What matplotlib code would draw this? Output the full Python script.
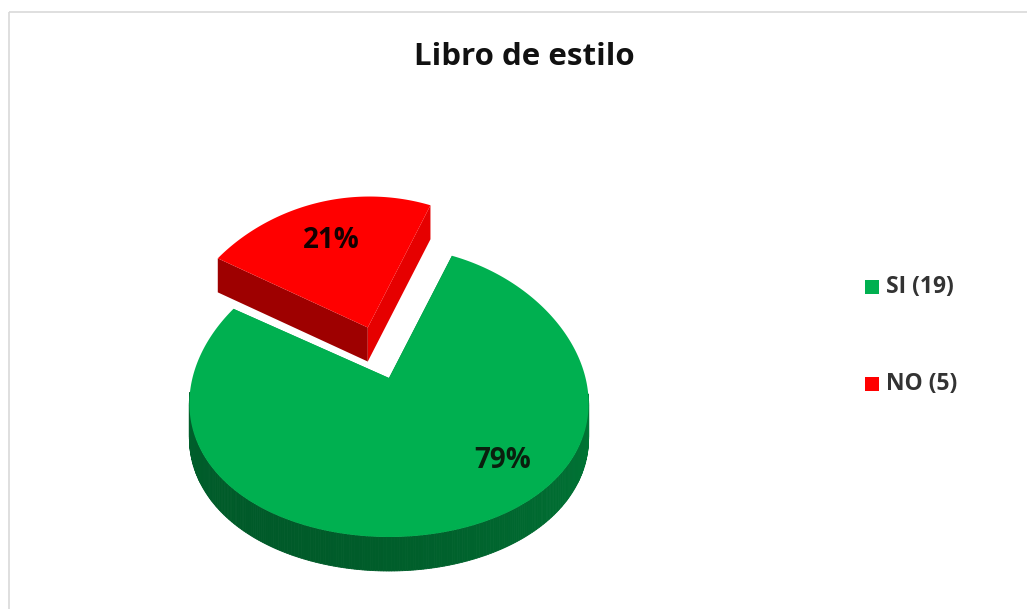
import numpy as np
import matplotlib
matplotlib.use("Agg")
import matplotlib.pyplot as plt
from matplotlib.patches import Polygon, Rectangle
from matplotlib.colors import to_rgb

# Data
categories = ["SI", "NO"]
counts = [19, 5]
legend_labels = ["SI (19)", "NO (5)"]
top_colors = ["#00B050", "#FF0000"]
title = "Libro de estilo"

FONT = ["Open Sans", "DejaVu Sans"]

W, H = 1027, 609
fig = plt.figure(figsize=(W / 100, H / 100), dpi=100)
ax = fig.add_axes([0, 0, 1, 1])
ax.set_xlim(0, W)
ax.set_ylim(H, 0)
ax.axis("off")

# chart frame
ax.add_patch(Rectangle((8.5, 11.5), W + 10, H + 10, fill=False,
                       edgecolor="#d9d9d9", linewidth=1.2, zorder=0))

# 3-D pie geometry (screen pixels, y downwards)
cx, cy = 389, 392          # centre of the top ellipse
vx, vy = 389, 378          # apex of the slices
rx, ry = 199, 145
depth = 34
persp = 0.08               # far side drawn slightly narrower
start = 70.0               # angle (deg) where NO begins, counter-clockwise

total = sum(counts)
spans = [c / total * 360 for c in counts]
# NO runs from start counter-clockwise, SI fills the rest
no_a0, no_a1 = start, start + spans[1]
si_a0, si_a1 = no_a1, no_a1 + spans[0]


def proj(u, v):
    """Unit-disc coordinates (u right, v back) -> screen pixels."""
    return cx + rx * u * (1 - persp * v), cy - ry * v


def shade(color, f):
    r, g, b = to_rgb(color)
    return (r * f, g * f, b * f)


def draw_slice(a0, a1, color, explode, z):
    mid = np.radians((a0 + a1) / 2)
    du, dv = explode * np.cos(mid), explode * np.sin(mid)
    ox, oy = proj(du, dv)
    px, py = vx + ox - cx, vy + oy - cy

    def rim(t):
        t = np.radians(t)
        return proj(np.cos(t) + du, np.sin(t) + dv)

    # radial faces
    for a, f in ((a1, 0.62), (a0, 0.90)):
        ex, ey = rim(a)
        quad = [(px, py), (ex, ey), (ex, ey + depth), (px, py + depth)]
        ax.add_patch(Polygon(quad, closed=True, facecolor=shade(color, f),
                             edgecolor="none", zorder=z))

    # outer wall, only where it faces the viewer
    ts = np.linspace(a0, a1, 400)
    front = (np.mod(ts, 360) >= 180)
    idx = np.where(front)[0]
    if len(idx) > 1:
        seg = ts[idx]
        for i in range(len(seg) - 1):
            t0, t1 = seg[i], seg[i + 1]
            ang = np.radians((t0 + t1) / 2)
            f = 0.55 + 0.13 * (np.cos(ang - np.radians(20)) + 1) / 2 \
                - 0.06 * np.clip(-np.sin(ang), 0, 1)
            x0, y0 = rim(t0)
            x1, y1 = rim(t1)
            quad = [(x0, y0), (x1, y1), (x1, y1 + depth), (x0, y0 + depth)]
            ax.add_patch(Polygon(quad, closed=True, facecolor=shade(color, f),
                                 edgecolor=shade(color, f), linewidth=0.6,
                                 zorder=z + 0.1))

    # top face
    xs, ys = rim(ts)
    pts = [(px, py)] + list(zip(xs, ys))
    ax.add_patch(Polygon(pts, closed=True, facecolor=color,
                         edgecolor="none", zorder=z + 0.2))


draw_slice(no_a0, no_a1, top_colors[1], 0.365, 1)
draw_slice(si_a0, si_a1, top_colors[0], 0.0, 2)

# percentage labels
pcts = [round(c / total * 100) for c in counts]
ax.text(503, 461, f"{pcts[0]}%", ha="center", va="center", fontsize=20,
        fontweight="bold", color="#0a1f0e", family=FONT, zorder=5)
ax.text(331, 241, f"{pcts[1]}%", ha="center", va="center", fontsize=20,
        fontweight="bold", color="#140000", family=FONT, zorder=5)

# title
ax.text(524, 57, title, ha="center", va="center", fontsize=22.5,
        fontweight="bold", color="#111111", family=FONT)

# legend
for lab, col, y in zip(legend_labels, top_colors, (287, 384)):
    ax.add_patch(Rectangle((865, y - 7), 14, 14, facecolor=col,
                           edgecolor="none"))
    ax.text(886, y, lab, ha="left", va="center", fontsize=16.5,
            fontweight="bold", color="#333333", family=FONT)

fig.savefig("out.png", dpi=100, facecolor="white")
